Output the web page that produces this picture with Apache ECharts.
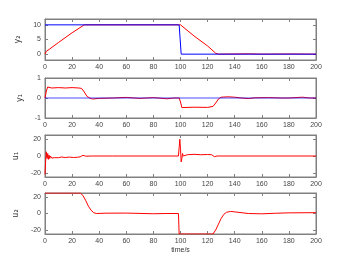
<!DOCTYPE html>
<html><head><meta charset="utf-8">
<script src="https://cdn.jsdelivr.net/npm/echarts@6/dist/echarts.min.js"></script>
<style>html,body{margin:0;padding:0;background:#fff}#c{width:350px;height:263px}</style>
</head><body><div id="c"></div>
<script>
var xTicks = [0,20,40,60,80,100,120,140,160,180,200];
var yNames = ['y\u2082','y\u2081','u\u2081','u\u2082'];
var yRanges = [[-2,12],[-1,1],[-25,25],[-25,25]];
var yTicks = [[0,5,10],[-1,0,1],[-20,0,20],[-20,0,20]];

var y2Ref = [[0,10],[99,10],[100.5,0],[200,0]];
var y2 = [[0,0],[1,1],[3,1.6],[10,4],[20,7.3],[29,10],[30,10],[100,10],[101,9.4],[110,6.2],[120,2.8],[126,0.3],[128,0],[150,0.1],[160,0],[180,0.05],[200,0]];
var y1Ref = [[0,0],[200,0]];
var y1 = [[0,0],[1,0.35],[2,0.55],[3,0.55],[5,0.5],[10,0.52],[15,0.5],[20,0.52],[25,0.5],[27,0.48],[29,0.3],[31,0.08],[33,0],[35,-0.05],[40,-0.02],[50,0],[60,0.03],[70,-0.02],[80,0.02],[90,-0.04],[95,0],[99,0],[100,-0.2],[101,-0.48],[110,-0.46],[120,-0.47],[124,-0.42],[126,-0.25],[128,-0.05],[130,0.04],[135,0.06],[140,0.04],[145,0],[150,-0.03],[155,0.01],[165,0.02],[175,0],[180,0],[190,0.04],[195,0],[200,0]];
var u1 = [[0,-22],[0.5,-5],[1,5],[1.5,-3],[2,3],[2.5,-4],[3,1],[3.5,-3],[4,0],[5,-2.5],[6,-1],[7,-2],[8,-1],[10,-2],[12,-1.2],[15,-1.8],[18,-1.3],[21,-1.8],[24,-1.5],[26,-1],[27,1],[28,0.8],[30,-0.2],[35,0],[50,0],[98.5,0],[99,10],[99.5,20],[100,8],[100.5,-7],[101,-3],[101.5,3],[102,0],[103,2],[105,1.5],[110,2],[115,1.5],[120,1.8],[123,1.5],[125,-0.8],[127,0],[200,0]];
var u2 = [[0,25],[26,25],[28,22],[30,16],[32,9],[34,4],[36,1],[38,0],[45,0.4],[60,0.5],[80,-0.3],[90,0],[98.5,0],[99,-25],[124,-25],[126,-20],[128,-13],[130,-6],[132,-1],[134,1.5],[137,2.5],[140,2],[150,0],[160,-0.4],[170,0.3],[180,0.8],[200,1]];

var tops = [19,78,135,193];
var heights = [41,40,42,41];
var frame = '#808080';
var lblColor = '#444';
var font = 'Liberation Sans';

var grids = [], xAxes = [], yAxes = [];
for (var i = 0; i < 4; i++) {
  grids.push({left:45, width:271, top:tops[i], height:heights[i], show:true, borderColor:frame, borderWidth:1, backgroundColor:'#fff'});
  xAxes.push({type:'value', gridIndex:i, min:0, max:200, interval:20, position:'bottom',
    axisLine:{show:true, onZero:false, lineStyle:{color:frame}},
    axisTick:{show:true, inside:true, length:3, lineStyle:{color:frame}},
    axisLabel:{show:true, fontSize:7, color:lblColor, fontFamily:font, margin:4},
    splitLine:{show:false},
    name: i===3 ? 'time/s' : '', nameLocation:'middle', nameGap:13,
    nameTextStyle:{fontSize:7, color:'#333', fontFamily:font}});
  xAxes.push({type:'value', gridIndex:i, min:0, max:200, interval:20, position:'top',
    axisLine:{show:true, onZero:false, lineStyle:{color:frame}},
    axisTick:{show:true, inside:true, length:3, lineStyle:{color:frame}},
    axisLabel:{show:false}, splitLine:{show:false}});
  yAxes.push({type:'value', gridIndex:i, min:yRanges[i][0], max:yRanges[i][1], position:'left',
    axisLine:{show:true, onZero:false, lineStyle:{color:frame}},
    axisTick:{show:true, inside:true, length:3, customValues:yTicks[i], lineStyle:{color:frame}},
    axisLabel:{show:true, fontSize:7, color:lblColor, fontFamily:font, margin:4, customValues:yTicks[i]},
    splitLine:{show:false},
    name:yNames[i], nameLocation:'middle', nameGap:15,
    nameTextStyle:{fontSize:8, color:'#333', fontFamily:'DejaVu Sans'}});
  yAxes.push({type:'value', gridIndex:i, min:yRanges[i][0], max:yRanges[i][1], position:'right',
    axisLine:{show:true, onZero:false, lineStyle:{color:frame}},
    axisTick:{show:true, inside:true, length:3, customValues:yTicks[i], lineStyle:{color:frame}},
    axisLabel:{show:false}, splitLine:{show:false}});
}

function line(data, idx, color, op) {
  return {type:'line', xAxisIndex:idx*2, yAxisIndex:idx*2, data:data, showSymbol:false, symbol:'none',
    animation:false, silent:true, lineStyle:{color:color, width:1, opacity:op||1}};
}

var chart = echarts.init(document.getElementById('c'), null, {renderer:'canvas'});
chart.setOption({
  animation:false,
  backgroundColor:'#fff',
  grid:grids, xAxis:xAxes, yAxis:yAxes,
  series:[
    line(y2,0,'#ff0000'), line(y2Ref,0,'#0000ff'),
    line(y1,1,'#ff0000'), line(y1Ref,1,'#0000ff',0.7),
    line(u1,2,'#ff0000'),
    line(u2,3,'#ff0000')
  ]
});
</script></body></html>
